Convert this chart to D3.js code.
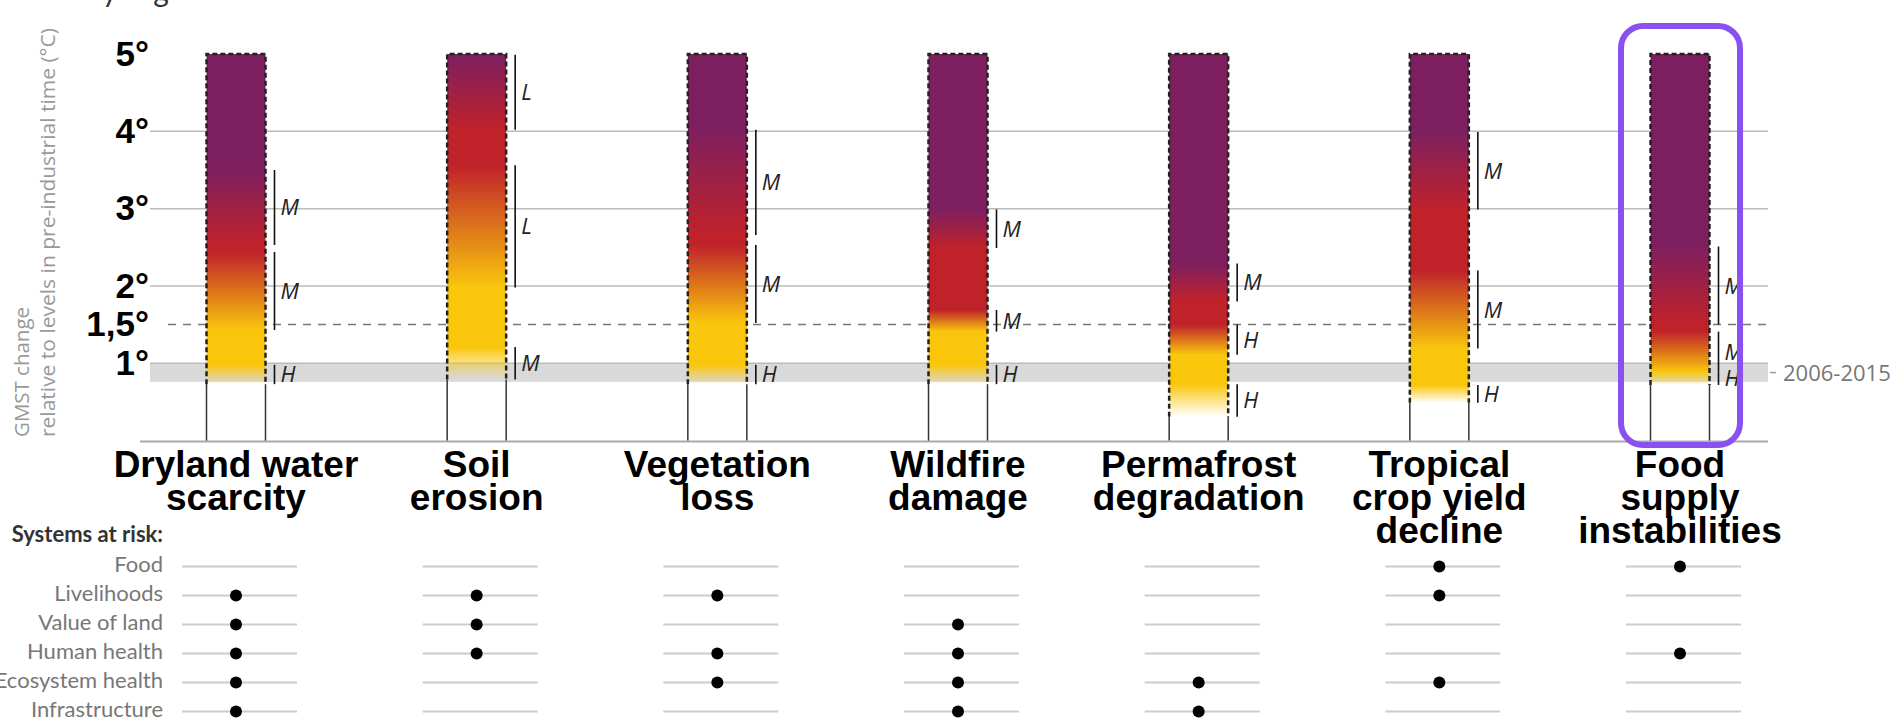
<!DOCTYPE html>
<html>
<head>
<meta charset="utf-8">
<script src="https://cdn.jsdelivr.net/npm/d3@7"></script>
<style>
  body { margin: 0; background: #fff; }
  svg { display: block; }
</style>
</head>
<body>
<svg id="chart" width="1893" height="728"></svg>
<script>
const categories = ['Dryland water scarcity', 'Soil erosion', 'Vegetation loss', 'Wildfire damage',
  'Permafrost degradation', 'Tropical crop yield decline', 'Food supply instabilities'];
const labelLines = [['Dryland water', 'scarcity'], ['Soil', 'erosion'], ['Vegetation', 'loss'],
  ['Wildfire', 'damage'], ['Permafrost', 'degradation'], ['Tropical', 'crop yield', 'decline'],
  ['Food', 'supply', 'instabilities']];

// transition ranges in °C (lo, hi) : undetectable->moderate, moderate->high, high->very high
const toModerate = [[0.73, 0.98], [0.79, 1.21], [0.73, 0.98], [0.73, 0.98], [0.31, 0.73], [0.49, 0.72], [0.72, 0.89]];
const toHigh     = [[1.43, 2.44], [1.98, 3.56], [1.52, 2.53], [1.41, 1.69], [1.11, 1.50], [1.19, 2.20], [0.89, 1.41]];
const toVeryHigh = [[2.53, 3.50], [4.02, 4.99], [2.66, 4.02], [2.49, 2.99], [1.80, 2.29], [2.99, 3.99], [1.50, 2.51]];
// confidence of each transition
const confModerate = ['H', 'M', 'H', 'H', 'H', 'H', 'H'];
const confHigh     = ['M', 'L', 'M', 'M', 'H', 'M', 'M'];
const confVeryHigh = ['M', 'L', 'M', 'M', 'M', 'M', 'M'];

const yTicks = [1, 1.5, 2, 3, 4, 5];
const solidGrid = [2, 3, 4];
const dashedGrid = [1.5];
const presentDay = [0.76, 1.0];
const presentDayLabel = '2006-2015';
const maxTemp = 5;

const systems = ['Food', 'Livelihoods', 'Value of land', 'Human health', 'Ecosystem health', 'Infrastructure'];
const atRisk = [
  [0, 0, 0, 0, 0, 1, 1],
  [1, 1, 1, 0, 0, 1, 0],
  [1, 1, 0, 1, 0, 0, 0],
  [1, 1, 1, 1, 0, 0, 1],
  [1, 0, 1, 1, 1, 1, 0],
  [1, 0, 0, 1, 1, 0, 0]
];
const highlighted = 'Food supply instabilities';

const colors = { yellow: '#f9c60c', red: '#c0222a', purple: '#7e1f5f' };

const svg = d3.select('#chart');
const x = d3.scalePoint().domain(categories).range([236, 1680]);
const y = d3.scaleLinear().domain([0, maxTemp]).range([440.6, 54]);
const rowY = d3.scalePoint().domain(systems).range([566.5, 711.5]);
const barW = 59;
const gridX0 = 150, gridX1 = 1768;

// top title fragment (cut off by the frame)
svg.append('text').attr('x', 102).attr('y', 2)
  .attr('font-family', 'Lato, sans-serif').attr('font-size', 30).attr('fill', '#333')
  .text('y').append('tspan').attr('dx', 36).text('g');

// present-day band
svg.append('rect')
  .attr('x', gridX0).attr('width', gridX1 - gridX0)
  .attr('y', y(presentDay[1])).attr('height', y(presentDay[0]) - y(presentDay[1]))
  .attr('fill', '#d9d9d9');
svg.append('line')
  .attr('x1', gridX1 + 2).attr('x2', gridX1 + 8)
  .attr('y1', y(d3.mean(presentDay))).attr('y2', y(d3.mean(presentDay)))
  .attr('stroke', '#999').attr('stroke-width', 1.5);
svg.append('text')
  .attr('x', gridX1 + 15).attr('y', y(d3.mean(presentDay)) + 8)
  .attr('font-family', '"Open Sans", sans-serif').attr('font-size', 22).attr('fill', '#777')
  .text(presentDayLabel);

// gridlines
svg.selectAll('.grid').data(solidGrid.concat([presentDay[1]])).join('line')
  .attr('class', 'grid')
  .attr('x1', gridX0).attr('x2', gridX1)
  .attr('y1', d => y(d)).attr('y2', d => y(d))
  .attr('stroke', '#bbb').attr('stroke-width', 1.5);
svg.selectAll('.dgrid').data(dashedGrid).join('line')
  .attr('class', 'dgrid')
  .attr('x1', gridX0 + 18).attr('x2', gridX1)
  .attr('y1', d => y(d)).attr('y2', d => y(d))
  .attr('stroke', '#777').attr('stroke-width', 1.5).attr('stroke-dasharray', '8,7');
svg.append('line')
  .attr('x1', gridX0 - 10).attr('x2', gridX1)
  .attr('y1', y(0) + 1).attr('y2', y(0) + 1)
  .attr('stroke', '#aaa').attr('stroke-width', 2);

// y axis labels
const fmt = d => String(d).replace('.', ',') + '°';
const yAxis = svg.append('g').attr('transform', 'translate(149,0)')
  .call(d3.axisLeft(y).tickValues(yTicks).tickSize(0).tickPadding(0).tickFormat(fmt));
yAxis.select('.domain').remove();
yAxis.selectAll('text')
  .attr('font-family', '"Liberation Sans", Arial, sans-serif')
  .attr('font-weight', 'bold').attr('font-size', 35).attr('fill', '#000');

// y axis title
const yTitle = svg.append('g').attr('fill', '#999')
  .attr('font-family', '"Open Sans", sans-serif').attr('font-size', 20);
yTitle.append('text').attr('transform', 'translate(29,437) rotate(-90)')
  .attr('textLength', 130).attr('lengthAdjust', 'spacingAndGlyphs').text('GMST change');
yTitle.append('text').attr('transform', 'translate(55,437) rotate(-90)')
  .attr('textLength', 409).attr('lengthAdjust', 'spacingAndGlyphs')
  .text('relative to levels in pre-industrial time (°C)');

// bars
const defs = svg.append('defs');
categories.forEach((c, i) => {
  const g = defs.append('linearGradient').attr('id', 'grad' + i)
    .attr('gradientUnits', 'userSpaceOnUse')
    .attr('x1', 0).attr('x2', 0).attr('y1', y(0)).attr('y2', y(maxTemp));
  const stops = [
    [toModerate[i][0], colors.yellow, 0],
    [toModerate[i][1], colors.yellow, 1],
    [toHigh[i][0], colors.yellow, 1],
    [toHigh[i][1], colors.red, 1],
    [toVeryHigh[i][0], colors.red, 1],
    [toVeryHigh[i][1], colors.purple, 1],
    [maxTemp, colors.purple, 1]
  ];
  stops.forEach(s => g.append('stop')
    .attr('offset', s[0] / maxTemp).attr('stop-color', s[1]).attr('stop-opacity', s[2]));

  const cx = x(c), left = cx - barW / 2, right = cx + barW / 2;
  const bar = svg.append('g');
  [left, right].forEach(px => bar.append('line')
    .attr('x1', px).attr('x2', px).attr('y1', y(0)).attr('y2', y(toModerate[i][0]))
    .attr('stroke', '#333').attr('stroke-width', 1.5));
  bar.append('rect')
    .attr('x', left).attr('width', barW)
    .attr('y', y(maxTemp)).attr('height', y(toModerate[i][0]) - y(maxTemp))
    .attr('fill', 'url(#grad' + i + ')');
  bar.append('path')
    .attr('d', `M${left},${y(toModerate[i][0])}V${y(maxTemp)}H${right}V${y(toModerate[i][0])}`)
    .attr('fill', 'none').attr('stroke', '#222').attr('stroke-width', 2.5)
    .attr('stroke-dasharray', '5,3');

  // confidence brackets
  const bx = right + 9;
  [[toModerate[i], confModerate[i]], [toHigh[i], confHigh[i]], [toVeryHigh[i], confVeryHigh[i]]].forEach(([r, conf]) => {
    bar.append('line')
      .attr('x1', bx).attr('x2', bx).attr('y1', y(r[0])).attr('y2', y(r[1]))
      .attr('stroke', '#111').attr('stroke-width', 1.6);
    bar.append('text')
      .attr('x', bx + 6).attr('y', y((r[0] + r[1]) / 2) + 8)
      .attr('font-family', '"Open Sans", sans-serif').attr('font-style', 'italic')
      .attr('font-size', 22).attr('fill', '#222')
      .text(conf);
  });
});

// highlight frame
svg.append('rect')
  .attr('x', x(highlighted) - 59).attr('width', 119)
  .attr('y', 26).attr('height', 419).attr('rx', 22)
  .attr('fill', 'none').attr('stroke', '#8a50f0').attr('stroke-width', 6);

// category labels
categories.forEach((c, i) => {
  const t = svg.append('text')
    .attr('text-anchor', 'middle')
    .attr('font-family', '"Liberation Sans", Arial, sans-serif')
    .attr('font-weight', 'bold').attr('font-size', 37).attr('fill', '#000');
  labelLines[i].forEach((line, k) => t.append('tspan')
    .attr('x', x(c)).attr('y', 477 + k * 33).text(line));
});

// systems at risk
svg.append('text')
  .attr('x', 163).attr('y', 542).attr('text-anchor', 'end')
  .attr('font-family', 'Lato, sans-serif').attr('font-weight', 'bold')
  .attr('font-size', 22).attr('fill', '#333')
  .text('Systems at risk:');

systems.forEach((s, r) => {
  const ry = rowY(s);
  svg.append('text')
    .attr('x', 163).attr('y', ry + 5).attr('text-anchor', 'end')
    .attr('font-family', 'Lato, sans-serif').attr('font-size', 22).attr('fill', '#777')
    .text(s);
  categories.forEach((c, i) => {
    svg.append('line')
      .attr('x1', x(c) - 54).attr('x2', x(c) + 61)
      .attr('y1', ry).attr('y2', ry)
      .attr('stroke', '#ccc').attr('stroke-width', 2);
    if (atRisk[r][i]) {
      svg.append('circle')
        .attr('cx', x(c)).attr('cy', ry).attr('r', 6)
        .attr('fill', '#000');
    }
  });
});
</script>
</body>
</html>
